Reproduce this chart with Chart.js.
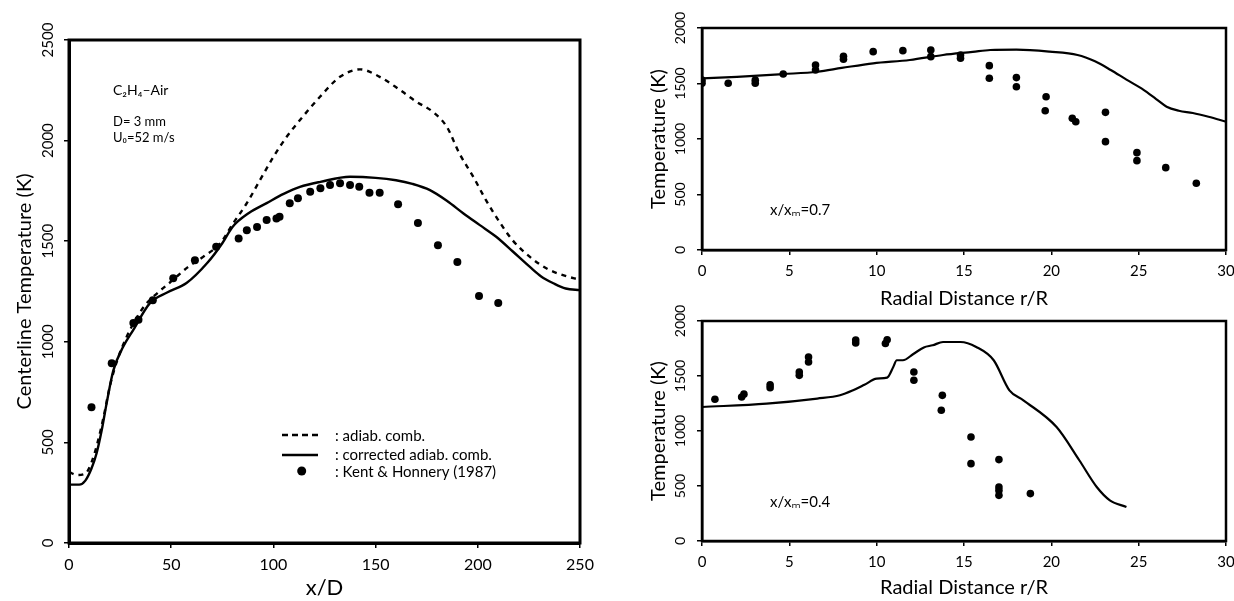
<!DOCTYPE html>
<html><head><meta charset="utf-8">
<script src="https://cdn.jsdelivr.net/npm/chart.js@4.4.1/dist/chart.umd.min.js"></script>
<style>
html,body{margin:0;padding:0;background:#fff;overflow:hidden;width:1234px;height:601px;}
.c{position:absolute;}
</style></head><body>
<div class="c" style="left:0;top:0;width:600px;height:601px"><canvas id="cL"></canvas></div>
<div class="c" style="left:630px;top:0;width:604px;height:315px"><canvas id="cT"></canvas></div>
<div class="c" style="left:630px;top:300px;width:604px;height:301px"><canvas id="cB"></canvas></div>
<script>
// ---------- Left panel: centerline temperature vs x/D ----------
const adiabX = [0,4,8,11,14,17,20,24,28,32,37,43,50,58,65.6,74,80.4,87,93.4,100,106.5,113,122.8,132.6,142.4,152,162,170,178,184.8,191,197.8,204,211,217,225.5,233.7,241.7,250];
const adiabT = [353,338,345,400,500,630,780,920,1020,1100,1180,1240,1300,1370,1422,1490,1590,1689,1803,1919,2019,2102,2218,2317,2354,2317,2251,2193,2143,2069,1936,1820,1704,1590,1505,1422,1364,1331,1308];
const corrX = [0,5,8,11,13.5,16,18.4,21.7,26.5,31.4,39.6,48,57.5,67.5,75,80,88,96.7,105,113,123,137.5,150,160,168,176.6,185,193,201,209,217,225.5,231,237,243,250];
const corrT = [290,290,310,370,446,560,694,858,975,1058,1192,1245,1292,1390,1490,1571,1640,1689,1735,1770,1795,1820,1815,1803,1785,1754,1700,1638,1580,1522,1450,1372,1325,1291,1265,1257];
const kentX = [11,20.9,31.5,34,41,51,61.6,72,83,87,92,96.7,101.5,103,108,112,118,123,127.7,132.6,137.5,142,147,152,161,170.7,180.5,190,200.6,210];
const kentT = [675,893,1093,1110,1206,1316,1405,1472,1514,1555,1571,1605,1613,1621,1689,1714,1746,1763,1779,1788,1779,1771,1741,1741,1684,1590,1480,1397,1228,1193];
const leftXTicks = [0,50,100,150,200,250];
const leftYTicks = [0,500,1000,1500,2000,2500];

// ---------- Top right panel: x/x_m = 0.7 ----------
const topR = [0,2,4.65,6.6,8,9.8,11.9,13.8,15.5,16.5,18,19.9,21.5,22.5,23.4,24.3,25.3,26,26.6,27.3,28.1,29,30];
const topT = [1546,1560,1585,1606,1640,1682,1712,1757,1785,1802,1805,1787,1757,1700,1622,1535,1441,1360,1291,1255,1234,1200,1156];
const topDotR = [0,0,1.5,3.05,3.05,4.65,6.5,6.5,8.1,8.1,9.8,11.5,13.1,13.1,14.8,14.8,16.45,16.45,18.0,18.0,19.7,19.65,21.2,21.4,23.1,23.1,24.9,24.9,26.55,28.3];
const topDotT = [1502,1530,1502,1502,1530,1585,1667,1622,1718,1745,1787,1796,1802,1742,1757,1727,1661,1547,1553,1471,1381,1255,1186,1156,1240,976,877,805,742,601];

// ---------- Bottom right panel: x/x_m = 0.4 ----------
const botR = [0,3.7,6.6,7.9,8.65,9.3,10,10.6,10.95,11.15,11.5,12.1,12.7,13.2,13.8,14.8,15.7,16.7,17.6,18.4,20.3,21.6,22.6,23.35,24.3];
const botT = [1218,1249,1295,1325,1370,1420,1476,1485,1582,1643,1643,1700,1760,1779,1809,1809,1764,1643,1370,1279,1036,734,491,370,309];
const botDotR = [0.74,2.27,2.4,3.9,3.9,5.57,5.57,6.1,6.1,8.8,8.8,10.5,10.6,12.13,12.13,13.76,13.7,15.4,15.4,17,17,17,17,18.8];
const botDotT = [1288,1309,1335,1394,1420,1506,1536,1627,1673,1800,1827,1795,1830,1536,1461,1324,1188,945,703,740,491,460,415,431];
const rightXTicks = [0,5,10,15,20,25,30];
const rightYTicks = [0,500,1000,1500,2000];

const FONT = "Lato, 'Open Sans', 'DejaVu Sans', sans-serif";
const pts = (xs, ys) => xs.map((x, i) => ({x: x, y: ys[i]}));

function lineDs(xs, ys, dash, w) {
  return {data: pts(xs, ys), showLine: true, borderColor: '#000', borderWidth: w,
    borderDash: dash, pointRadius: 0, fill: false, tension: 0.4, cubicInterpolationMode: 'monotone'};
}
function dotDs(xs, ys, r) {
  return {data: pts(xs, ys), showLine: false, pointRadius: r, pointBackgroundColor: '#000',
    pointBorderColor: '#000', pointBorderWidth: 0, pointStyle: 'circle'};
}

// frame + rotated y tick labels + extra text
function framePlugin(cfg) {
  return {
    id: cfg.id,
    afterDraw(chart) {
      const ctx = chart.ctx, ca = chart.chartArea, ys = chart.scales.y;
      ctx.save();
      ctx.strokeStyle = '#000';
      ctx.lineWidth = cfg.frameW;
      ctx.strokeRect(ca.left, ca.top, ca.right - ca.left, ca.bottom - ca.top);
      ctx.fillStyle = '#000';
      ctx.font = cfg.yTickFont;
      ctx.textAlign = 'center';
      ctx.textBaseline = 'middle';
      ys.ticks.forEach(t => {
        const py = ys.getPixelForValue(t.value);
        ctx.save();
        ctx.translate(ca.left - cfg.yTickOff, py);
        ctx.rotate(-Math.PI / 2);
        ctx.fillText(String(t.value), 0, 0, 100);
        ctx.restore();
      });
      if (cfg.extra) cfg.extra(chart, ctx, ca);
      ctx.restore();
    }
  };
}

function baseOptions(o) {
  return {
    responsive: true, maintainAspectRatio: false, animation: false,
    layout: {padding: o.pad},
    plugins: {legend: {display: false}, tooltip: {enabled: false}},
    scales: {
      x: {
        type: 'linear', min: o.xMin, max: o.xMax,
        afterBuildTicks: s => { s.ticks = o.xTicks.map(v => ({value: v})); },
        afterFit: s => { s.height = o.xH; s.paddingLeft = 0; s.paddingRight = 0; },
        grid: {display: true, drawOnChartArea: false, drawTicks: true, tickLength: 5, color: '#000', lineWidth: 1.5},
        border: {display: true, color: '#000', width: o.frameW},
        ticks: {color: '#000', font: {family: FONT, size: o.xTickSize}, padding: o.xTickPad, maxRotation: 0, autoSkip: false,
          callback: v => String(v)},
        title: {display: true, text: o.xTitle, color: '#000', font: {family: FONT, size: o.xTitleSize}, padding: {top: 0, bottom: o.xTitlePadB}}
      },
      y: {
        type: 'linear', min: o.yMin, max: o.yMax,
        afterBuildTicks: s => { s.ticks = o.yTicks.map(v => ({value: v})); },
        afterFit: s => { s.width = o.yW; s.paddingTop = 0; s.paddingBottom = 0; },
        grid: {display: true, drawOnChartArea: false, drawTicks: true, tickLength: 5, color: '#000', lineWidth: 1.5},
        border: {display: true, color: '#000', width: o.frameW},
        ticks: {display: false},
        title: {display: true, text: o.yTitle, color: '#000', font: {family: FONT, size: o.yTitleSize}, padding: {top: o.yTitlePadT, bottom: 0}}
      }
    }
  };
}

// ---------- Left chart ----------
new Chart(document.getElementById('cL'), {
  type: 'scatter',
  data: {datasets: [
    lineDs(adiabX, adiabT, [5, 5], 2.4),
    lineDs(corrX, corrT, [], 2.4),
    dotDs(kentX, kentT, 4)
  ]},
  options: baseOptions({pad: {left: 0, top: 40, right: 20, bottom: 0}, xMin: 0, xMax: 250, yMin: 0, yMax: 2500,
    xTicks: leftXTicks, yTicks: leftYTicks, xH: 58, yW: 69, frameW: 3, xTickSize: 16, xTickPad: 7,
    xTitle: 'x/D', xTitleSize: 22, xTitlePadB: 0, yTitle: 'Centerline Temperature (K)', yTitleSize: 20, yTitlePadT: 13}),
  plugins: [framePlugin({id: 'frameL', frameW: 3, yTickFont: '15px ' + FONT, yTickOff: 21,
    extra(chart, ctx, ca) {
      const X = dx => ca.left + dx, Y = dy => ca.top + dy;
      ctx.fillStyle = '#000';
      ctx.textAlign = 'left';
      ctx.textBaseline = 'middle';
      ctx.font = '14px ' + FONT;
      ctx.fillText('C\u2082H\u2084\u2013Air', X(44), Y(50));
      ctx.font = '13px ' + FONT;
      ctx.fillText('D= 3 mm', X(44), Y(82));
      ctx.fillText('U\u2080=52 m/s', X(44), Y(98));
      // legend
      ctx.strokeStyle = '#000';
      ctx.lineWidth = 2.4;
      ctx.setLineDash([6, 4]);
      ctx.beginPath(); ctx.moveTo(X(213), Y(395)); ctx.lineTo(X(249), Y(395)); ctx.stroke();
      ctx.setLineDash([]);
      ctx.beginPath(); ctx.moveTo(X(213), Y(415)); ctx.lineTo(X(249), Y(415)); ctx.stroke();
      ctx.beginPath(); ctx.arc(X(232.7), Y(431), 4.5, 0, Math.PI * 2); ctx.fill();
      ctx.font = '15px ' + FONT;
      ctx.fillText(': adiab. comb.', X(266), Y(396));
      ctx.fillText(': corrected adiab. comb.', X(266), Y(415));
      ctx.fillText(': Kent & Honnery (1987)', X(266), Y(432));
    }})]
});

// ---------- Top right chart ----------
new Chart(document.getElementById('cT'), {
  type: 'scatter',
  data: {datasets: [
    lineDs(topR, topT, [], 2.2),
    dotDs(topDotR, topDotT, 3.8)
  ]},
  options: baseOptions({pad: {left: 0, top: 28, right: 8, bottom: 0}, xMin: 0, xMax: 30, yMin: 0, yMax: 2000,
    xTicks: rightXTicks, yTicks: rightYTicks, xH: 65, yW: 72, frameW: 2.5, xTickSize: 15, xTickPad: 7,
    xTitle: 'Radial Distance r/R', xTitleSize: 20, xTitlePadB: 4, yTitle: 'Temperature (K)', yTitleSize: 20, yTitlePadT: 17}),
  plugins: [framePlugin({id: 'frameT', frameW: 2.5, yTickFont: '14px ' + FONT, yTickOff: 22,
    extra(chart, ctx, ca) {
      ctx.fillStyle = '#000'; ctx.textAlign = 'left'; ctx.textBaseline = 'middle';
      ctx.font = '15px ' + FONT;
      ctx.fillText('x/x\u2098=0.7', ca.left + 68, ca.top + 182);
    }})]
});

// ---------- Bottom right chart ----------
new Chart(document.getElementById('cB'), {
  type: 'scatter',
  data: {datasets: [
    lineDs(botR, botT, [], 2.2),
    dotDs(botDotR, botDotT, 3.8)
  ]},
  options: baseOptions({pad: {left: 0, top: 21, right: 8, bottom: 0}, xMin: 0, xMax: 30, yMin: 0, yMax: 2000,
    xTicks: rightXTicks, yTicks: rightYTicks, xH: 60, yW: 72, frameW: 2.5, xTickSize: 15, xTickPad: 7,
    xTitle: 'Radial Distance r/R', xTitleSize: 20, xTitlePadB: 1, yTitle: 'Temperature (K)', yTitleSize: 20, yTitlePadT: 17}),
  plugins: [framePlugin({id: 'frameB', frameW: 2.5, yTickFont: '14px ' + FONT, yTickOff: 22,
    extra(chart, ctx, ca) {
      ctx.fillStyle = '#000'; ctx.textAlign = 'left'; ctx.textBaseline = 'middle';
      ctx.font = '15px ' + FONT;
      ctx.fillText('x/x\u2098=0.4', ca.left + 68, ca.top + 181);
    }})]
});
</script>
</body></html>
